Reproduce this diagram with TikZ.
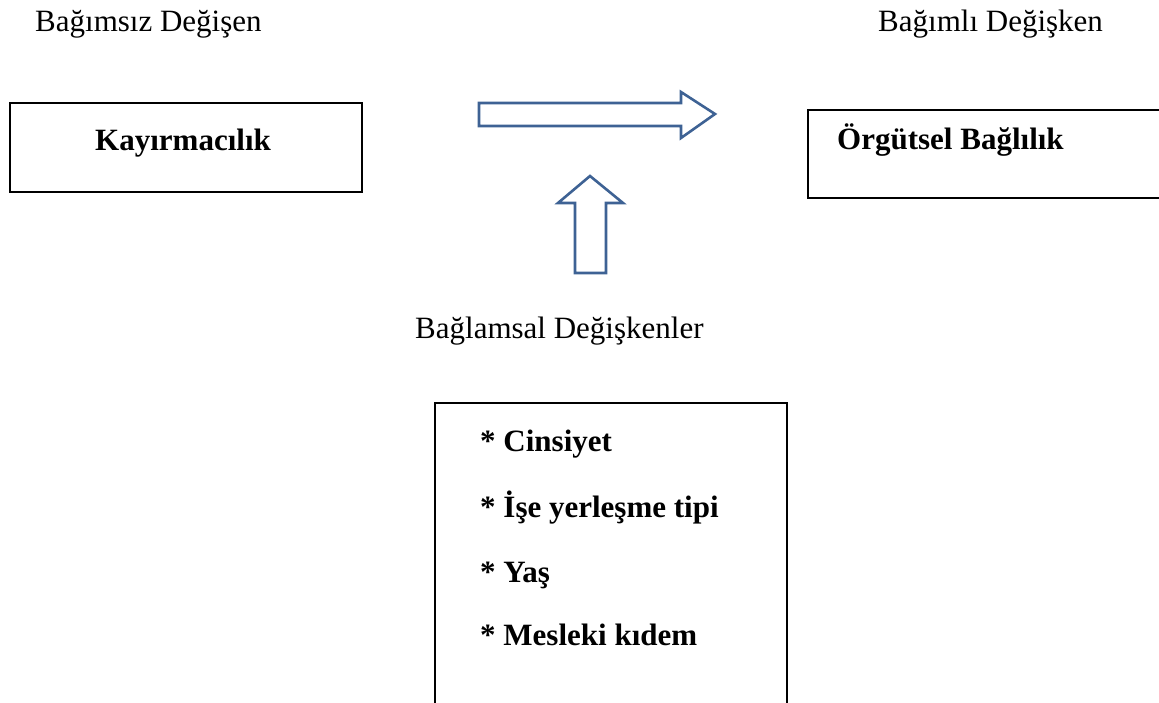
\documentclass[tikz,border=0pt]{standalone}
\usepackage{fontspec}
\setmainfont{Liberation Serif}
\definecolor{arrowblue}{HTML}{3E6294}
\begin{document}
\begin{tikzpicture}[x=1pt,y=-1pt,
  lbl/.style={anchor=base west,inner sep=0pt,font=\fontsize{31}{37}\selectfont},
  blbl/.style={lbl,font=\fontsize{31}{37}\selectfont\bfseries},
  boxline/.style={draw=black,line width=2pt},
  blockarrow/.style={draw=arrowblue,line width=2.6pt,fill=white,line join=miter}]
\useasboundingbox (0,0) rectangle (1159,703);
% labels
\node[lbl] (indep) at (35,32) {Bağımsız Değişen};
\node[lbl] (dep) at (878,32) {Bağımlı Değişken};
\node[lbl] (ctx) at (415,338) {Bağlamsal Değişkenler};
% boxes
\draw[boxline] (10,103) rectangle (362,192);
\node[blbl] (kay) at (95,151) {Kayırmacılık};
\draw[boxline] (1170,110) -- (808,110) -- (808,198) -- (1170,198);
\node[blbl] (org) at (837,150) {Örgütsel Bağlılık};
\draw[boxline] (435,715) -- (435,403) -- (787,403) -- (787,715);
\node[blbl] (i1) at (480,451) {* Cinsiyet};
\node[blbl] (i2) at (480,517) {* İşe yerleşme tipi};
\node[blbl] (i3) at (480,582) {* Yaş};
\node[blbl] (i4) at (480,645) {* Mesleki kıdem};
% block arrows
\draw[blockarrow] (479,103) -- (681,103) -- (681,92) -- (715,114) -- (681,138) -- (681,126) -- (479,126) -- cycle;
\draw[blockarrow] (575,273) -- (575,203) -- (558,203) -- (590,176) -- (623,203) -- (606,203) -- (606,273) -- cycle;
\end{tikzpicture}
\end{document}
